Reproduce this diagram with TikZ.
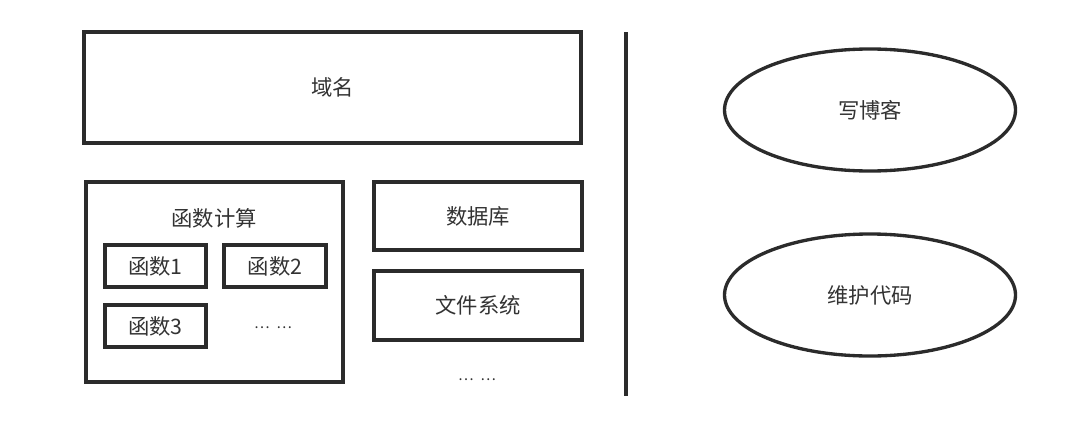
\documentclass[tikz,border=0pt]{standalone}
\usepackage{fontspec}
\setmainfont{Noto Sans CJK SC}
\usetikzlibrary{shapes.geometric}
\definecolor{ink}{HTML}{2B2B2B}
\definecolor{txt}{HTML}{333333}
\tikzset{
  box/.style={draw=ink, line width=2.5pt, rectangle, inner sep=0pt, text=txt, font=\fontsize{16}{18}\selectfont},
  oval/.style={draw=ink, line width=2.5pt, ellipse, inner sep=0pt, text=txt, font=\fontsize{16}{18}\selectfont},
  lbl/.style={inner sep=0pt, text=txt, font=\fontsize{16}{18}\selectfont},
  dotlbl/.style={inner sep=0pt, text=txt, font=\fontsize{11}{12}\selectfont}
}
\begin{document}
\begin{tikzpicture}[x=0.75pt, y=-0.75pt]
\useasboundingbox (0,0) rectangle (1080,446);
% top
\node[box, minimum width=497*0.75pt, minimum height=111*0.75pt] (domain) at (332.5,87.5) {域名};
% function compute
\node[box, minimum width=257*0.75pt, minimum height=200*0.75pt] (fc) at (214.5,282) {};
\node[lbl] (fctitle) at (214,218) {函数计算};
\node[box, minimum width=101*0.75pt, minimum height=42*0.75pt] (f1) at (155.5,266) {函数1};
\node[box, minimum width=102*0.75pt, minimum height=42*0.75pt] (f2) at (275,266) {函数2};
\node[box, minimum width=101*0.75pt, minimum height=42*0.75pt] (f3) at (155.5,326) {函数3};
\node[dotlbl] (fdots) at (273,328) {…\hspace{5pt}…};
% storage
\node[box, minimum width=208*0.75pt, minimum height=68*0.75pt] (db) at (478,216) {数据库};
\node[box, minimum width=208*0.75pt, minimum height=69*0.75pt] (fs) at (478,305.5) {文件系统};
\node[dotlbl] (sdots) at (477,380) {…\hspace{5pt}…};
% divider
\coordinate (vtop) at (626,32);
\coordinate (vbot) at (626,396);
\draw[ink, line width=2.5pt] (vtop) -- (vbot);
% ellipses
\node[oval, minimum width=291*0.75pt, minimum height=122*0.75pt] (blog) at (870,110) {写博客};
\node[oval, minimum width=291*0.75pt, minimum height=122*0.75pt] (code) at (870,295) {维护代码};
\end{tikzpicture}
\end{document}
